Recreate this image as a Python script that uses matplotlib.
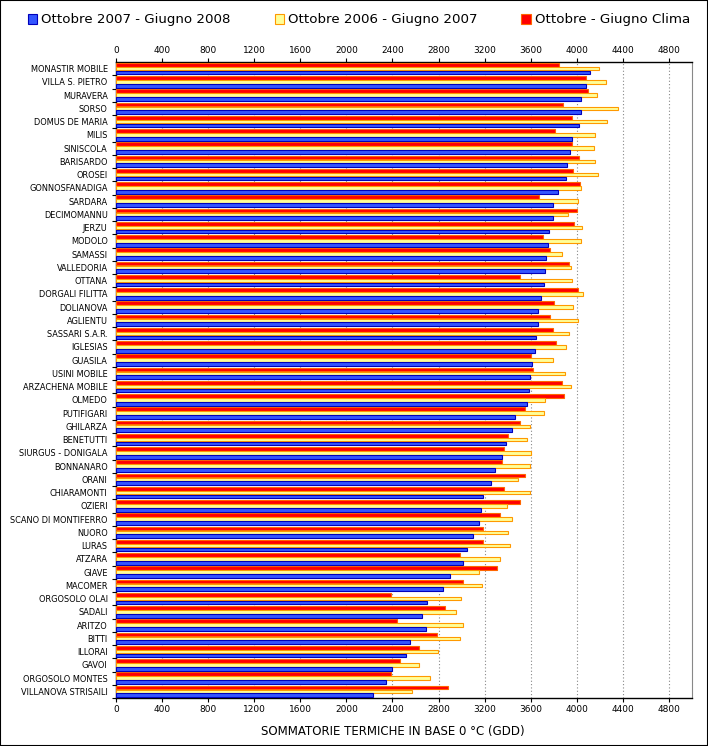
import numpy as np
import matplotlib.pyplot as plt
from matplotlib.patches import Rectangle

# Stations (top to bottom)
stations = [
    "MONASTIR MOBILE", "VILLA S. PIETRO", "MURAVERA", "SORSO", "DOMUS DE MARIA",
    "MILIS", "SINISCOLA", "BARISARDO", "OROSEI", "GONNOSFANADIGA",
    "SARDARA", "DECIMOMANNU", "JERZU", "MODOLO", "SAMASSI",
    "VALLEDORIA", "OTTANA", "DORGALI FILITTA", "DOLIANOVA", "AGLIENTU",
    "SASSARI S.A.R.", "IGLESIAS", "GUASILA", "USINI MOBILE", "ARZACHENA MOBILE",
    "OLMEDO", "PUTIFIGARI", "GHILARZA", "BENETUTTI", "SIURGUS - DONIGALA",
    "BONNANARO", "ORANI", "CHIARAMONTI", "OZIERI", "SCANO DI MONTIFERRO",
    "NUORO", "LURAS", "ATZARA", "GIAVE", "MACOMER",
    "ORGOSOLO OLAI", "SADALI", "ARITZO", "BITTI", "ILLORAI",
    "GAVOI", "ORGOSOLO MONTES", "VILLANOVA STRISAILI",
]

# Ottobre 2007 - Giugno 2008
gdd_2008 = [
    4114, 4078, 4035, 4035, 4016, 3957, 3937, 3914, 3906, 3835,
    3792, 3792, 3757, 3749, 3733, 3722, 3714, 3686, 3663, 3663,
    3643, 3635, 3608, 3592, 3584, 3565, 3463, 3435, 3384, 3349,
    3286, 3251, 3184, 3165, 3149, 3098, 3043, 3008, 2898, 2835,
    2698, 2655, 2694, 2549, 2514, 2400, 2341, 2227,
]
# Ottobre 2006 - Giugno 2007
gdd_2007 = [
    4192, 4251, 4173, 4357, 4259, 4157, 4149, 4157, 4180, 4035,
    4008, 3922, 4043, 4035, 3871, 3949, 3957, 4051, 3965, 4008,
    3929, 3906, 3792, 3894, 3949, 3722, 3714, 3592, 3565, 3600,
    3592, 3486, 3592, 3392, 3435, 3400, 3416, 3329, 3149, 3173,
    2992, 2949, 3008, 2984, 2792, 2627, 2729, 2573,
]
# Ottobre - Giugno Clima
gdd_clima = [
    3847, 4078, 4094, 3878, 3961, 3808, 3957, 4016, 3965, 4024,
    3671, 4000, 3973, 3706, 3765, 3929, 3506, 4008, 3800, 3765,
    3792, 3816, 3600, 3616, 3871, 3886, 3549, 3506, 3400, 3365,
    3349, 3549, 3365, 3506, 3329, 3184, 3184, 2984, 3306, 3008,
    2384, 2855, 2443, 2784, 2627, 2463, 2384, 2878,
]

labels = ["Ottobre 2007 - Giugno 2008", "Ottobre 2006 - Giugno 2007", "Ottobre - Giugno Clima"]
xticks = np.arange(0, 4801, 400)

fig = plt.figure(figsize=(7.08, 7.46), dpi=100)
ax = fig.add_axes([116 / 708, 1 - 698 / 746, 576 / 708, 636 / 746])

y = np.arange(len(stations))
h = 0.27
b_red = ax.barh(y - 0.29, gdd_clima, height=h, color="#ff0000", edgecolor="#ff6600", linewidth=0.8, zorder=3)
b_yel = ax.barh(y, gdd_2007, height=h, color="#ffff99", edgecolor="#ff9900", linewidth=0.8, zorder=3)
b_blu = ax.barh(y + 0.29, gdd_2008, height=h, color="#3355ff", edgecolor="#0000bb", linewidth=0.8, zorder=3)

ax.set_xlim(0, 5000)
ax.set_ylim(len(stations) - 0.5, -0.5)
ax.set_xticks(xticks)
ax.tick_params(axis="x", top=True, labeltop=True, labelsize=6.5, length=3, width=0.8, pad=2)
ax.grid(axis="x", linestyle=(0, (1, 2)), color="#888888", linewidth=0.8, zorder=0)

ax.set_yticks(y + 0.5)
ax.set_yticklabels([])
ax.set_yticks(y, minor=True)
ax.set_yticklabels(stations, minor=True, fontsize=6.6, fontstretch="condensed")
ax.tick_params(axis="y", which="major", length=3, width=0.8)
ax.tick_params(axis="y", which="minor", length=0, pad=6)

for s in ["left", "top", "bottom"]:
    ax.spines[s].set_linewidth(1.0)
ax.spines["right"].set_color("#888888")

fig.text(393 / 708, 1 - 731 / 746, "SOMMATORIE TERMICHE IN BASE 0 °C (GDD)",
         ha="center", va="center", fontsize=8.5)

fig.legend([b_blu, b_yel, b_red], labels, loc="center", bbox_to_anchor=(0.507, 1 - 20 / 746),
           ncol=3, frameon=False, fontsize=9.6, handlelength=0.7, handleheight=0.7,
           handletextpad=0.3, columnspacing=3.3)

fig.add_artist(Rectangle((0, 0), 1, 1, transform=fig.transFigure, fill=False,
                         edgecolor="black", linewidth=1.5))

fig.savefig("out.png", dpi=100)
